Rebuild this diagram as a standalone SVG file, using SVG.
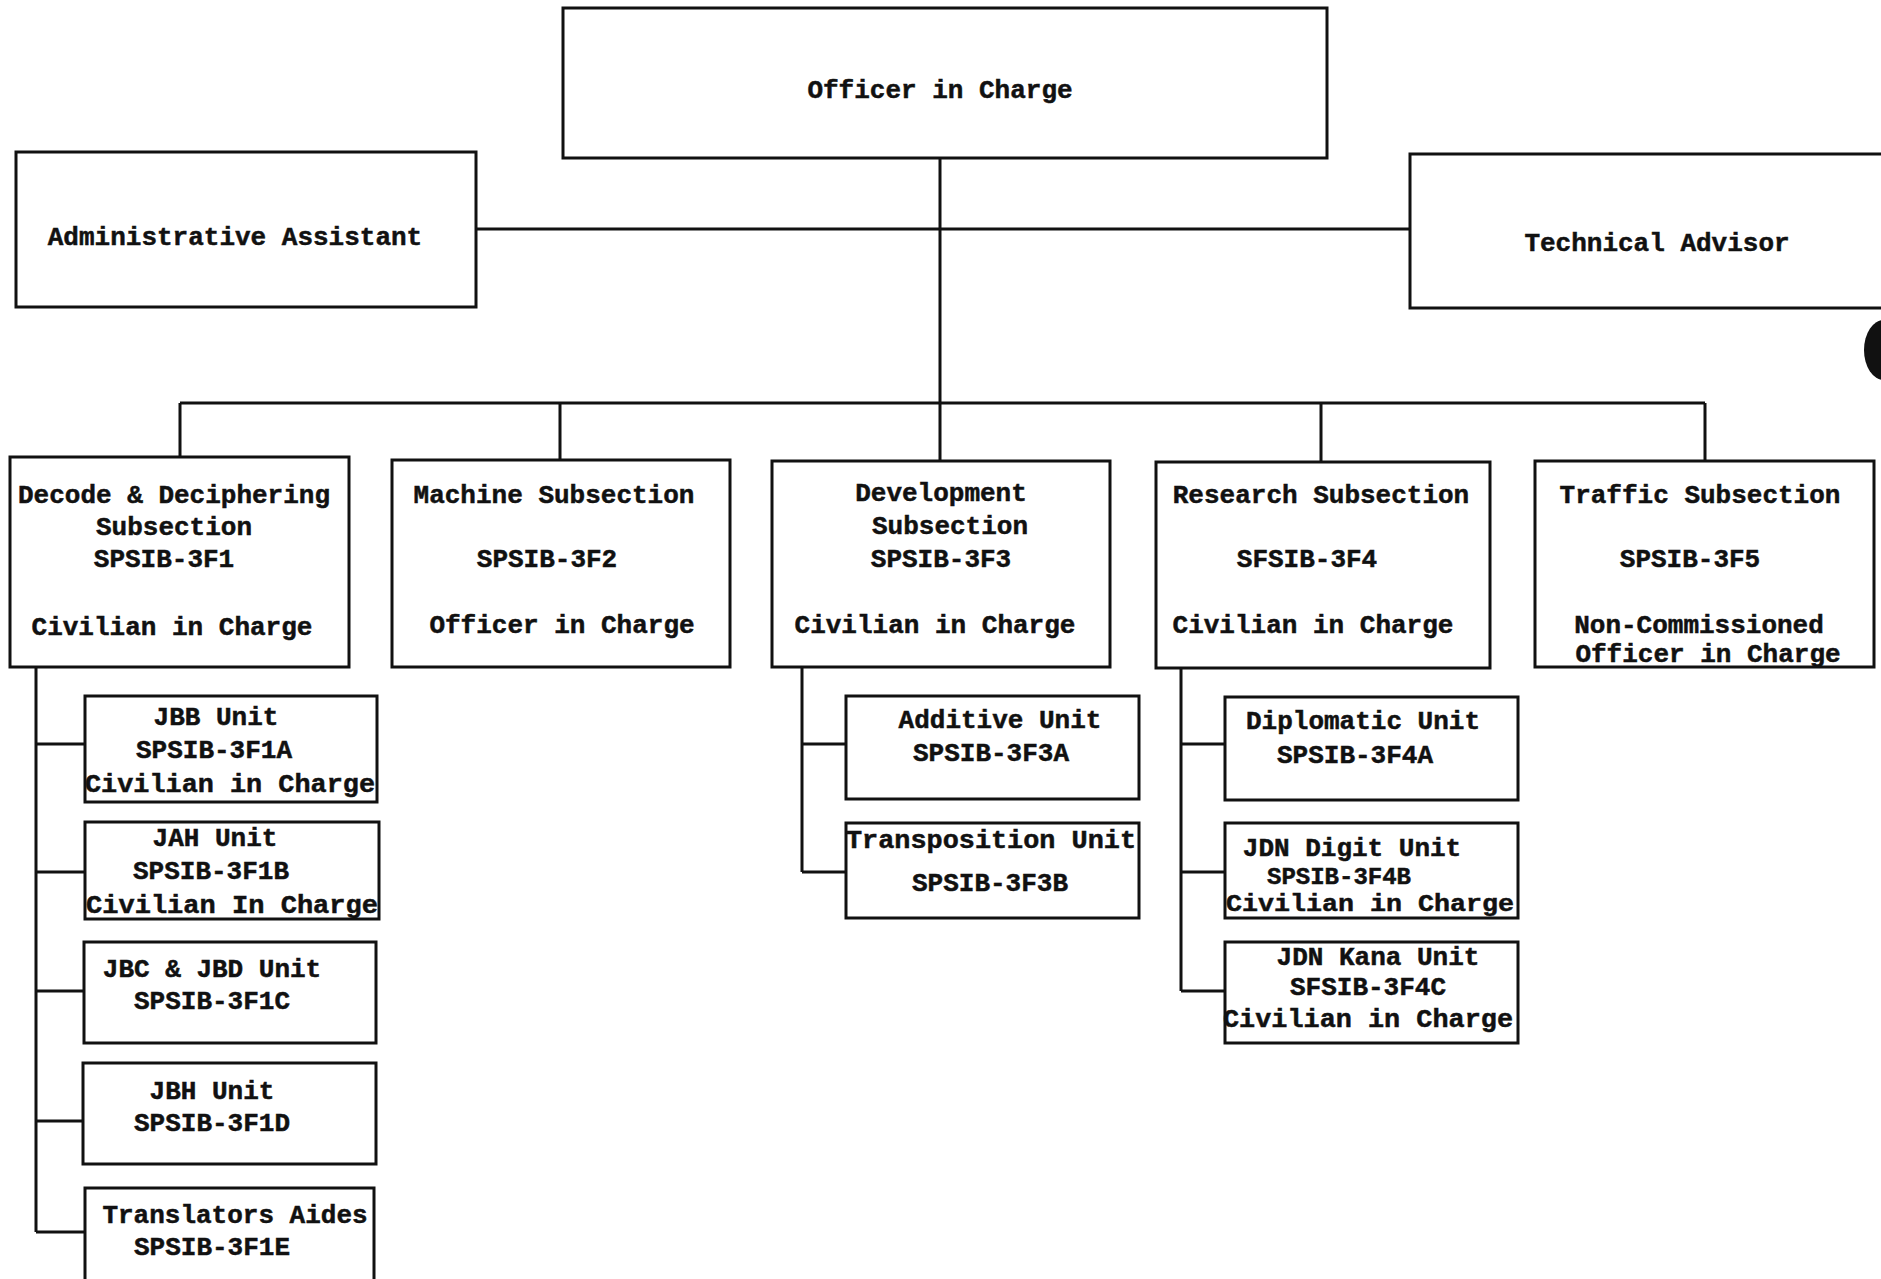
<svg xmlns="http://www.w3.org/2000/svg" width="1881" height="1279" viewBox="0 0 1881 1279">
<style>
.box{fill:#fff;stroke:#111;stroke-width:3}
.ln{fill:none;stroke:#111;stroke-width:3}
text{font-family:"Liberation Mono","DejaVu Sans Mono",monospace;font-weight:bold;font-size:26px;fill:#111;stroke:#111;stroke-width:0.5;text-anchor:middle;dominant-baseline:central}
.sm{font-size:24px}
</style>
<rect width="1881" height="1279" fill="#fff"/>
<g id="connectors">
<path class="ln" d="M476,229 H1410"/>
<path class="ln" d="M940,158 V403"/>
<path class="ln" d="M180,403 H1705"/>
<path class="ln" d="M180,403 V457 M560,403 V460 M940,403 V461 M1321,403 V462 M1705,403 V461"/>
<path class="ln" d="M36,667 V1232 M36,744 H85 M36,872 H85 M36,991 H84 M36,1121 H83 M36,1232 H85"/>
<path class="ln" d="M802,667 V872 M802,744 H846 M802,872 H846"/>
<path class="ln" d="M1181,668 V991 M1181,744 H1225 M1181,872 H1225 M1181,991 H1225"/>
</g>
<g id="officer"><rect class="box" x="563" y="8" width="764" height="150"/><text x="940" y="91">Officer in Charge</text></g>
<g id="admin"><rect class="box" x="16" y="152" width="460" height="155"/><text x="235" y="238">Administrative Assistant</text></g>
<g id="tech"><rect class="box" x="1410" y="154" width="480" height="154"/><text x="1657" y="244">Technical Advisor</text></g>
<g id="decode"><rect class="box" x="10" y="457" width="339" height="210"/>
<text x="174" y="496">Decode &amp; Deciphering</text><text x="174" y="528">Subsection</text><text x="164" y="560">SPSIB-3F1</text><text x="172" y="628">Civilian in Charge</text></g>
<g id="machine"><rect class="box" x="392" y="460" width="338" height="207"/>
<text x="554" y="496">Machine Subsection</text><text x="547" y="560">SPSIB-3F2</text><text x="562" y="626">Officer in Charge</text></g>
<g id="development"><rect class="box" x="772" y="461" width="338" height="206"/>
<text x="941" y="494">Development</text><text x="950" y="527">Subsection</text><text x="941" y="560">SPSIB-3F3</text><text x="935" y="626">Civilian in Charge</text></g>
<g id="research"><rect class="box" x="1156" y="462" width="334" height="206"/>
<text x="1321" y="496">Research Subsection</text><text x="1307" y="560">SFSIB-3F4</text><text x="1313" y="626">Civilian in Charge</text></g>
<g id="traffic"><rect class="box" x="1535" y="461" width="339" height="206"/>
<text x="1700" y="496">Traffic Subsection</text><text x="1690" y="560">SPSIB-3F5</text><text x="1699" y="626">Non-Commissioned</text><text x="1708" y="655">Officer in Charge</text></g>
<g id="jbb"><rect class="box" x="85" y="696" width="292" height="106"/>
<text x="216" y="718">JBB Unit</text><text x="214" y="751">SPSIB-3F1A</text><text x="230" y="785" textLength="290" lengthAdjust="spacingAndGlyphs">Civilian in Charge</text></g>
<g id="jah"><rect class="box" x="85" y="822" width="294" height="97"/>
<text x="215" y="839">JAH Unit</text><text x="211" y="872">SPSIB-3F1B</text><text x="232" y="906" textLength="292" lengthAdjust="spacingAndGlyphs">Civilian In Charge</text></g>
<g id="jbc"><rect class="box" x="84" y="942" width="292" height="101"/>
<text x="212" y="970">JBC &amp; JBD Unit</text><text x="212" y="1002">SPSIB-3F1C</text></g>
<g id="jbh"><rect class="box" x="83" y="1063" width="293" height="101"/>
<text x="212" y="1092">JBH Unit</text><text x="212" y="1124">SPSIB-3F1D</text></g>
<g id="translators"><rect class="box" x="85" y="1188" width="289" height="100"/>
<text x="235" y="1216">Translators Aides</text><text x="212" y="1248">SPSIB-3F1E</text></g>
<g id="additive"><rect class="box" x="846" y="696" width="293" height="103"/>
<text x="1000" y="721">Additive Unit</text><text x="991" y="754">SPSIB-3F3A</text></g>
<g id="transposition"><rect class="box" x="846" y="823" width="293" height="95"/>
<text x="991" y="841" textLength="290" lengthAdjust="spacingAndGlyphs">Transposition Unit</text><text x="990" y="884">SPSIB-3F3B</text></g>
<g id="diplomatic"><rect class="box" x="1225" y="697" width="293" height="103"/>
<text x="1363" y="722">Diplomatic Unit</text><text x="1355" y="756">SPSIB-3F4A</text></g>
<g id="jdndigit"><rect class="box" x="1225" y="823" width="293" height="95"/>
<text x="1352" y="849">JDN Digit Unit</text><text class="sm" x="1339" y="877">SPSIB-3F4B</text><text class="sm" x="1370" y="904" textLength="288" lengthAdjust="spacingAndGlyphs">Civilian in Charge</text></g>
<g id="jdnkana"><rect class="box" x="1225" y="942" width="293" height="101"/>
<text x="1378" y="958">JDN Kana Unit</text><text x="1368" y="988">SFSIB-3F4C</text><text x="1368" y="1020" textLength="290" lengthAdjust="spacingAndGlyphs">Civilian in Charge</text></g>
<ellipse cx="1884" cy="350" rx="20" ry="30" fill="#111"/>
</svg>
